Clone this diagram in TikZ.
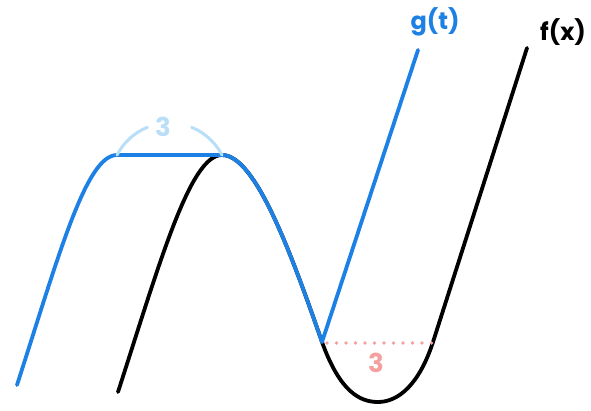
\documentclass[tikz,border=0pt]{standalone}
\usepackage{fontspec}
\setmainfont{Poppins}
\definecolor{gblue}{RGB}{28,128,228}
\definecolor{lblue}{RGB}{185,222,248}
\definecolor{lpink}{RGB}{244,160,160}
\tikzset{
  curve/.style={line width=3.8pt, line cap=round, line join=round},
  lab/.style={font=\fontsize{24}{24}\selectfont\bfseries, inner sep=0pt},
  numlab/.style={font=\fontsize{26}{26}\selectfont\bfseries, inner sep=0pt}
}
\begin{document}
\begin{tikzpicture}[x=1pt,y=-1pt]
\useasboundingbox (0,0) rectangle (591,411);
% black f(x)
\draw[curve, black] (118,392) .. controls (160,262) and (190,155) .. (222,155)
  .. controls (255,155) and (290,250) .. (322,342)
  .. controls (340,392) and (360,402) .. (378,402)
  .. controls (398,402) and (419,385) .. (433,342) -- (527,48);
% blue g(t)
\draw[curve, gblue] (17,385) .. controls (59,255) and (86,155) .. (117,155) -- (222,155)
  .. controls (255,155) and (290,250) .. (322,342) -- (418,50);
% light blue arc
\coordinate (c) at (169.5,182);
\draw[lblue, line width=3pt, line cap=round] (c) ++(-152.8:59) arc[start angle=-152.8, end angle=-112, radius=59];
\draw[lblue, line width=3pt, line cap=round] (c) ++(-68:59) arc[start angle=-68, end angle=-27.2, radius=59];
\node[numlab, text=lblue] (n3a) at (163,127) {3};
% pink dotted
\coordinate (pa) at (327,343);
\coordinate (pb) at (432,343);
\draw[lpink, line width=3.6pt, line cap=round, dash pattern=on 0pt off 9.5pt] (pa) -- (pb);
\node[numlab, text=lpink] (n3b) at (376,363) {3};
% labels
\node[lab, text=gblue] (g) at (435,22) {g(t)};
\node[lab, text=black] (f) at (563,32) {f(x)};
\end{tikzpicture}
\end{document}
